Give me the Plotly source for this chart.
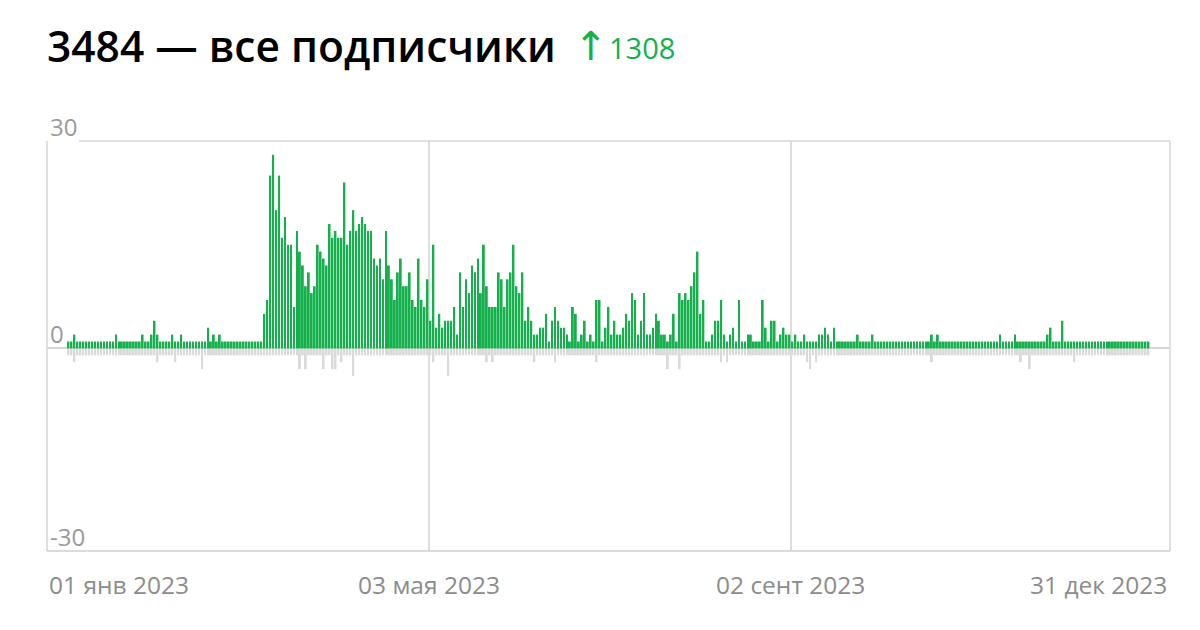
import pandas as pd
import plotly.graph_objects as go

# ---------------- data ----------------
title_total = "3484"
title_text = "все подписчики"
growth = "1308"

start_date = "2023-01-01"

# daily new subscribers (Jan 1 .. Dec 31, 2023)
subs_jan_mar7 = [1, 1, 2, 1, 1, 1, 1, 1, 1, 1, 1, 1, 1, 1, 1, 1, 2, 1, 1, 1,
                 1, 1, 1, 1, 1, 2, 1, 1, 2, 4, 2, 1, 1, 1, 1, 2, 1, 1, 2, 1,
                 1, 1, 1, 1, 1, 1, 1, 3, 1, 2, 1, 2, 1, 1, 1, 1, 1, 1, 1, 1,
                 1, 1, 1, 1, 1, 1]
subs_mar8_may2 = [5, 7, 25, 28, 20, 25, 16, 19, 15, 15, 6, 17, 14, 12, 9, 11, 8, 9, 15, 14,
                  13, 12, 18, 16, 17, 16, 16, 24, 15, 17, 20, 17, 18, 19, 18, 17, 17, 13, 12, 13,
                  10, 17, 12, 10, 7, 11, 13, 9, 9, 11, 7, 6, 13, 7, 6, 10]
subs_may3_jul4 = [4, 15, 3, 5, 3, 4, 4, 4, 6, 2, 11, 6, 10, 8, 12, 11, 13, 8, 15, 9,
                  6, 6, 6, 11, 10, 6, 10, 11, 15, 9, 8, 11, 4, 6, 4, 2, 2, 3, 3, 5,
                  1, 4, 6, 4, 3, 3, 2, 1, 6, 5, 1, 2, 4, 1, 2, 1, 7, 7, 1, 3,
                  6, 2, 4]
subs_jul5_sep3 = [2, 2, 3, 5, 4, 8, 7, 2, 4, 8, 2, 2, 3, 5, 4, 2, 2, 1, 2, 5,
                  1, 8, 7, 8, 7, 9, 11, 14, 5, 7, 1, 1, 2, 4, 4, 7, 2, 1, 2, 3,
                  1, 7, 1, 1, 2, 2, 1, 1, 1, 7, 3, 1, 4, 4, 1, 2, 3, 2, 2, 1,
                  2]
subs_sep4_dec31 = [1, 1, 2, 1, 1, 1, 1, 2, 2, 3, 2, 1, 3, 1, 1, 1, 1, 1, 1, 1,
                   2, 1, 1, 1, 1, 2, 1, 1, 1, 1, 1, 1, 1, 1, 1, 1, 1, 1, 1, 1,
                   1, 1, 1, 1, 1, 2, 1, 2, 1, 1, 1, 1, 1, 1, 1, 1, 1, 1, 1, 1,
                   1, 1, 1, 1, 1, 1, 1, 1, 2, 1, 1, 1, 1, 2, 1, 1, 1, 1, 1, 1,
                   1, 1, 1, 1, 2, 3, 1, 1, 1, 4, 1, 1, 1, 1, 1, 1, 1, 1, 1, 1,
                   1, 1, 1, 1, 1, 1, 1, 1, 1, 1, 1, 1, 1, 1, 1, 1, 1, 1, 1]

# daily unsubscribes: -1 most days, deeper on some
unsub_default = -1
unsub_days = [2, 30, 36, 45, 78, 80, 86, 89, 90, 92, 96, 123, 128, 141, 143, 157, 164, 178,
              202, 206, 220, 222, 249, 250, 252, 291, 321, 324, 339]
unsub_vals = [-2, -2, -2, -3, -3, -3, -3, -3, -3, -2, -4, -2, -4, -2, -2, -2, -2, -2,
              -3, -3, -2, -2, -2, -3, -2, -2, -2, -3, -2]

y_tick_vals = [30, 0, -30]
y_tick_text = ["30", "0", "-30"]
x_grid_dates = ["2023-05-03", "2023-09-02"]
x_label_dates = ["2023-01-01", "2023-05-03", "2023-09-02", "2023-12-31"]
x_label_text = ["01 янв 2023", "03 мая 2023", "02 сент 2023", "31 дек 2023"]

# ---------------- build ----------------
subs = subs_jan_mar7 + subs_mar8_may2 + subs_may3_jul4 + subs_jul5_sep3 + subs_sep4_dec31
dates = pd.date_range(start_date, periods=len(subs), freq="D")
unsubs = [unsub_default] * len(subs)
for d, v in zip(unsub_days, unsub_vals):
    unsubs[d] = v

GREEN = "#14b04c"
GREY = "#dadada"
LINE = "#d6d6d6"
LABEL = "#8c8c8c"
FONT = "Open Sans"
DAY_MS = 86400000
Y_MAX, Y_MIN = 30, -29.3

fig = go.Figure()
fig.add_trace(go.Bar(x=dates, y=unsubs, marker=dict(color=GREY, line=dict(width=0)),
                     width=0.62 * DAY_MS, xperiod=DAY_MS, xperiodalignment="middle",
                     hoverinfo="skip"))
fig.add_trace(go.Bar(x=dates, y=subs, marker=dict(color=GREEN, line=dict(width=0)),
                     width=0.62 * DAY_MS, xperiod=DAY_MS, xperiodalignment="middle",
                     hoverinfo="skip"))

x0 = pd.Timestamp(start_date) - pd.Timedelta(days=6.74)
x1 = pd.Timestamp(start_date) + pd.Timedelta(days=371.76)

# page body has an 8px margin -> figure is 1192x622 and starts at (8, 8)
fig.update_layout(
    width=1192, height=622,
    margin=dict(l=39, r=30, t=133, b=79),
    paper_bgcolor="white", plot_bgcolor="white",
    barmode="overlay", showlegend=False,
    font=dict(family=FONT, color=LABEL),
    xaxis=dict(range=[x0, x1], type="date", tickvals=x_grid_dates, showticklabels=False,
               showgrid=True, gridcolor="#dedede", gridwidth=1.5, zeroline=False,
               showline=False, ticks=""),
    yaxis=dict(range=[Y_MIN, Y_MAX], showgrid=False, showticklabels=False, zeroline=True,
               zerolinecolor=LINE, zerolinewidth=2, showline=False, ticks=""),
)

# frame
fig.add_shape(type="line", xref="paper", yref="paper", x0=0, x1=0, y0=0, y1=1,
              line=dict(color=LINE, width=1.5))
fig.add_shape(type="line", xref="paper", yref="paper", x0=1, x1=1, y0=0, y1=1,
              line=dict(color=LINE, width=1.5))
fig.add_shape(type="line", xref="paper", yref="paper", x0=0.0285, x1=1, y0=1, y1=1,
              line=dict(color=LINE, width=1.5))
fig.add_shape(type="line", xref="paper", yref="paper", x0=0, x1=1, y0=0, y1=0,
              line=dict(color="#cfcfcf", width=1.5))

# y labels
for v, t in zip(y_tick_vals, y_tick_text):
    fig.add_annotation(xref="paper", yref="y", x=0, y=min(max(v, Y_MIN), Y_MAX), text=t,
                       showarrow=False, xanchor="left", yanchor="bottom", xshift=1, yshift=-4,
                       font=dict(family=FONT, size=24, color="#9a9a9a"))

# x labels
n = len(x_label_text)
for i, (d, t) in enumerate(zip(x_label_dates, x_label_text)):
    if i == 0:
        kw = dict(xref="paper", x=0, xanchor="left")
    elif i == n - 1:
        kw = dict(xref="paper", x=1, xanchor="right", xshift=-1)
    else:
        kw = dict(xref="x", x=d, xanchor="center")
    fig.add_annotation(yref="paper", y=0, yanchor="middle", yshift=-33, text=t,
                       showarrow=False, font=dict(family=FONT, size=24.5, color=LABEL), **kw)

# title
fig.add_annotation(xref="paper", yref="paper", x=0, y=1.232, xanchor="left", yanchor="middle",
                   text=f"{title_total} — {title_text}", showarrow=False, xshift=-2,
                   font=dict(family=FONT, size=42.5, color="#000000", weight=600))
fig.add_annotation(xref="paper", yref="paper", x=0.4728, y=1.232, xanchor="left", yanchor="middle",
                   text="↑", showarrow=False, xshift=-6,
                   font=dict(family="DejaVu Sans", size=40, color=GREEN))
fig.add_annotation(xref="paper", yref="paper", x=0.4728, y=1.228, xanchor="left", yanchor="middle",
                   text=growth, showarrow=False, xshift=29,
                   font=dict(family=FONT, size=29, color=GREEN))

fig.write_html("out.html")
